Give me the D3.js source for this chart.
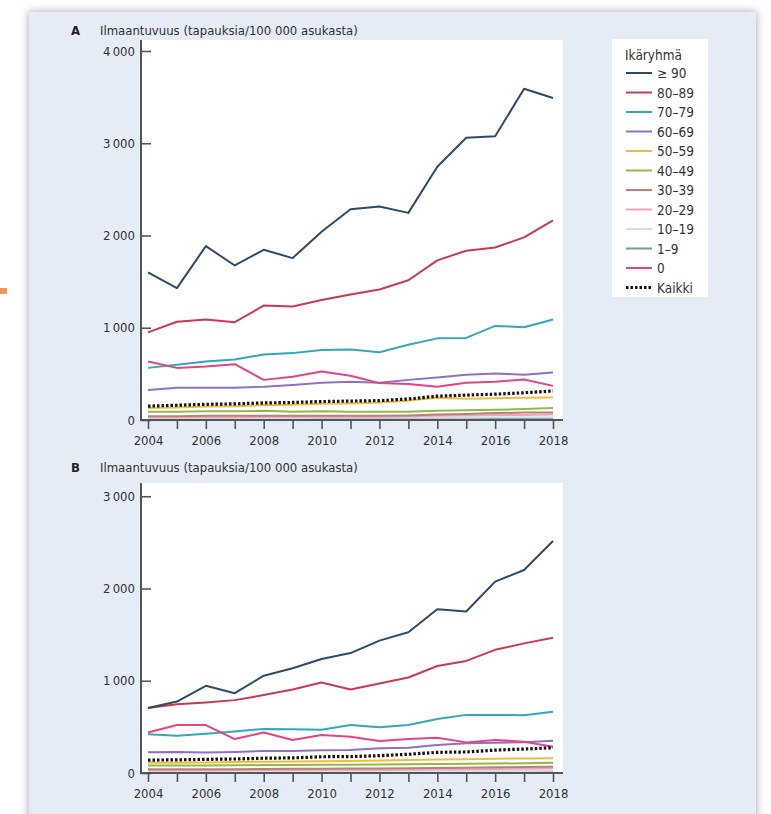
<!DOCTYPE html>
<html>
<head>
<meta charset="utf-8">
<script src="https://cdn.jsdelivr.net/npm/d3@7"></script>
<style>
  html, body { margin: 0; padding: 0; background: #ffffff; }
  svg { display: block; }
  text { font-family: "Liberation Sans Narrow", "DejaVu Sans Condensed", sans-serif; fill: #333; }
</style>
</head>
<body>
<svg id="chart" width="771" height="814"></svg>
<script>
// Ilmaantuvuus ikäryhmittäin 2004–2018 (tapauksia / 100 000 asukasta)
const years = [2004, 2005, 2006, 2007, 2008, 2009, 2010, 2011, 2012, 2013, 2014, 2015, 2016, 2017, 2018];
const xTickLabels = [2004, 2006, 2008, 2010, 2012, 2014, 2016, 2018];
const groups = ["≥ 90", "80–89", "70–79", "60–69", "50–59", "40–49", "30–39", "20–29", "10–19", "1–9", "0", "Kaikki"];
const groupColors = ["#2e4a66", "#c73a55", "#36a7b5", "#8c72c2", "#f2bd3c", "#8fba4c", "#b9826f", "#efa6bd", "#cfdfee", "#6f9c9c", "#e2457f", "#111111"];

// Paneeli A
const aTicks = [0, 1000, 2000, 3000, 4000];
const aGe90 = [1600, 1430, 1885, 1675, 1845, 1755, 2040, 2285, 2315, 2245, 2745, 3060, 3075, 3590, 3490];
const a80 = [950, 1065, 1090, 1060, 1240, 1230, 1300, 1360, 1415, 1515, 1730, 1835, 1870, 1980, 2165];
const a70 = [565, 600, 635, 655, 710, 725, 760, 765, 735, 815, 885, 890, 1020, 1005, 1090];
const a60 = [325, 350, 350, 350, 360, 380, 405, 415, 405, 435, 460, 490, 505, 490, 515];
const a50 = [130, 135, 145, 150, 160, 165, 175, 180, 190, 210, 240, 230, 235, 240, 245];
const a40 = [90, 90, 95, 95, 100, 90, 95, 90, 90, 90, 100, 105, 110, 120, 130];
const a30 = [40, 40, 45, 45, 45, 45, 45, 45, 45, 50, 60, 65, 75, 80, 80];
const a20 = [30, 30, 30, 30, 35, 35, 35, 35, 35, 40, 45, 50, 55, 55, 60];
const a10 = [20, 20, 20, 20, 20, 20, 25, 25, 25, 25, 25, 25, 30, 30, 30];
const a1 = [15, 18, 16, 17, 15, 16, 18, 17, 15, 16, 17, 18, 16, 15, 17];
const a0 = [635, 565, 580, 605, 435, 470, 525, 480, 400, 390, 360, 405, 415, 440, 370];
const aAll = [150, 160, 170, 175, 185, 190, 200, 205, 210, 228, 258, 270, 280, 295, 315];

// Paneeli B
const bTicks = [0, 1000, 2000, 3000];
const bGe90 = [705, 775, 945, 865, 1055, 1135, 1235, 1300, 1435, 1525, 1775, 1750, 2075, 2200, 2515];
const b80 = [705, 745, 765, 790, 845, 905, 980, 905, 970, 1035, 1160, 1215, 1335, 1405, 1465];
const b70 = [420, 405, 425, 450, 478, 475, 468, 520, 495, 520, 585, 630, 630, 625, 665];
const b60 = [225, 228, 222, 228, 238, 238, 246, 250, 268, 275, 303, 322, 328, 332, 350];
const b50 = [110, 112, 115, 118, 122, 125, 128, 130, 135, 140, 145, 150, 155, 158, 160];
const b40 = [80, 80, 82, 84, 86, 88, 90, 90, 92, 95, 98, 100, 103, 106, 110];
const b30 = [40, 40, 42, 42, 44, 45, 46, 48, 50, 52, 55, 58, 62, 65, 68];
const b20 = [30, 30, 30, 32, 32, 33, 34, 35, 36, 38, 40, 42, 44, 46, 48];
const b10 = [18, 18, 18, 19, 19, 20, 20, 20, 21, 21, 22, 22, 23, 23, 24];
const b1 = [12, 12, 12, 13, 13, 13, 13, 13, 13, 14, 14, 14, 14, 15, 15];
const b0 = [440, 520, 520, 368, 440, 358, 412, 394, 347, 368, 383, 332, 358, 339, 285];
const bAll = [140, 142, 148, 152, 160, 164, 176, 178, 188, 203, 224, 228, 248, 260, 274];

const aSeries = [aGe90, a80, a70, a60, a50, a40, a30, a20, a10, a1, a0, aAll];
const bSeries = [bGe90, b80, b70, b60, b50, b40, b30, b20, b10, b1, b0, bAll];

const svg = d3.select("#chart");
const fmt = v => d3.format(",")(v).replace(/,/g, "\u2009");

// Taustapaneeli varjoineen
const defs = svg.append("defs");
const sh = defs.append("filter").attr("id", "shadow").attr("x", "-5%").attr("y", "-5%").attr("width", "110%").attr("height", "110%");
sh.append("feDropShadow").attr("dx", 0).attr("dy", 0).attr("stdDeviation", 4.5)
  .attr("flood-color", "#808080").attr("flood-opacity", 0.75);

svg.append("rect").attr("x", 0).attr("y", 288).attr("width", 7).attr("height", 6).attr("fill", "#f39a52");
svg.append("rect").attr("x", 29).attr("y", 12).attr("width", 727).attr("height", 820)
  .attr("fill", "#e5ecf6").attr("filter", "url(#shadow)");

const plotLeft = 141, plotRight = 563;
const x = d3.scaleLinear().domain([2004, 2018]).range([148, 553]);

function panel(letter, top, zeroY, maxTick, ticks, series, titleY) {
  const y = d3.scaleLinear().domain([0, maxTick]).range([zeroY, zeroY - maxTick * 0.09225]);
  const g = svg.append("g");

  g.append("rect").attr("x", plotLeft).attr("y", top).attr("width", plotRight - plotLeft).attr("height", zeroY - top)
    .attr("fill", "#ffffff");

  g.append("text").attr("x", 71).attr("y", titleY).attr("font-size", 13).attr("font-weight", "bold")
    .style("fill", "#222").text(letter);
  g.append("text").attr("x", 100).attr("y", titleY).attr("font-size", 13).text("Ilmaantuvuus (tapauksia/100 000 asukasta)");

  // Sarjat: ensin pienimmät, kokonaisuus päällimmäiseksi
  const line = d3.line().x((d, i) => x(years[i])).y(d => y(d));
  const order = [9, 8, 7, 6, 5, 4, 3, 2, 10, 1, 0, 11];
  order.forEach(k => {
    const p = g.append("path").datum(series[k]).attr("d", line).attr("fill", "none")
      .attr("stroke", groupColors[k]).attr("stroke-linejoin", "round");
    if (k === 11) p.attr("stroke-width", 3.2).attr("stroke-dasharray", "2.5 2");
    else p.attr("stroke-width", 2);
  });

  // Y-akseli
  const yAxis = d3.axisLeft(y).tickValues(ticks).tickSizeInner(-10).tickSizeOuter(0).tickPadding(6).tickFormat(fmt);
  const ya = g.append("g").attr("transform", `translate(${plotLeft},0)`).call(yAxis);
  ya.select(".domain").remove();
  ya.selectAll("line").attr("stroke", "#555").attr("stroke-width", 1.6);
  ya.selectAll("text").attr("font-size", 13).style("font-family", null).style("fill", "#333");
  g.append("line").attr("x1", plotLeft).attr("x2", plotLeft).attr("y1", top).attr("y2", zeroY + 1)
    .attr("stroke", "#555").attr("stroke-width", 2);

  // X-akseli
  const xAxis = d3.axisBottom(x).tickValues(years).tickSizeInner(9).tickSizeOuter(0).tickPadding(7)
    .tickFormat(d => xTickLabels.includes(d) ? d : "");
  const xa = g.append("g").attr("transform", `translate(0,${zeroY})`).call(xAxis);
  xa.select(".domain").remove();
  xa.selectAll("line").attr("stroke", "#555").attr("stroke-width", 1.6);
  xa.selectAll("text").attr("font-size", 13).style("fill", "#333");
  g.append("line").attr("x1", plotLeft).attr("x2", plotRight).attr("y1", zeroY).attr("y2", zeroY)
    .attr("stroke", "#555").attr("stroke-width", 2);
}

panel("A", 40, 420, 4000, aTicks, aSeries, 35);
panel("B", 483, 773, 3000, bTicks, bSeries, 472);

// Selite
const lg = svg.append("g");
lg.append("rect").attr("x", 612).attr("y", 39).attr("width", 96).attr("height", 258).attr("fill", "#ffffff");
lg.append("text").attr("x", 625).attr("y", 60).attr("font-size", 13.5).text("Ikäryhmä");
groups.forEach((name, i) => {
  const cy = 73 + i * 19.5;
  const l = lg.append("line").attr("x1", 626).attr("x2", 652).attr("y1", cy).attr("y2", cy)
    .attr("stroke", groupColors[i]);
  if (i === 11) l.attr("stroke-width", 3).attr("stroke-dasharray", "2.5 2");
  else l.attr("stroke-width", 2);
  lg.append("text").attr("x", 657).attr("y", cy + 5).attr("font-size", 13.5).text(name);
});
</script>
</body>
</html>
